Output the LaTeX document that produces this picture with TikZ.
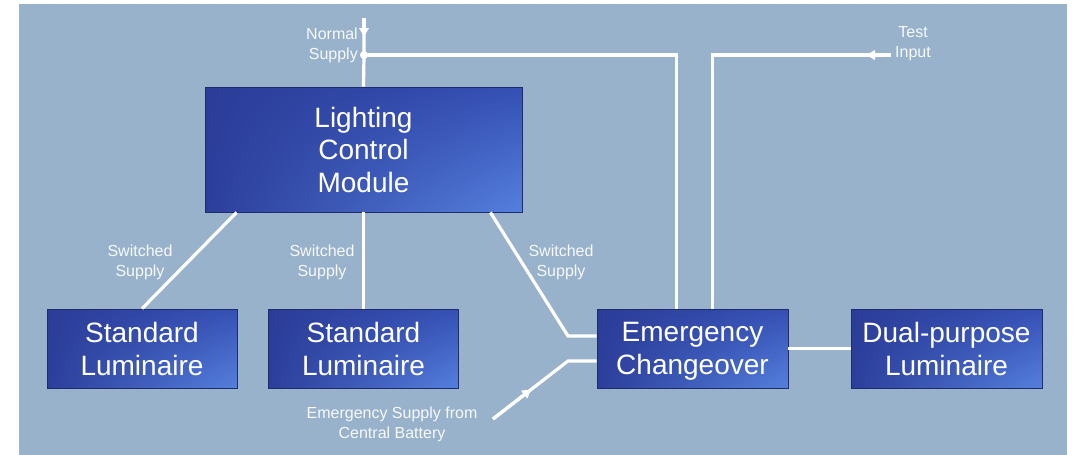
\documentclass[tikz,border=0pt]{standalone}
\usepackage{fontspec}
\setmainfont{Liberation Sans}
\usetikzlibrary{arrows.meta}
\usetikzlibrary{shadings}

\definecolor{panelblue}{HTML}{98B2CB}
\definecolor{boxdark}{HTML}{2B3C98}
\definecolor{boxmid}{HTML}{3550B4}
\definecolor{boxlight}{HTML}{5580DE}
\definecolor{boxedge}{HTML}{1E2C6A}

\tikzset{
  unitbox/.style={draw=boxedge, line width=.8pt, inner sep=0pt, align=center, text=white,
    upper left=boxdark, upper right=boxmid, lower left=boxdark!90!boxmid, lower right=boxlight,
    font=\fontsize{28}{33}\selectfont},
  wire/.style={draw=white, line width=3.2pt},
  feed/.style={wire, -{Latex[length=10pt,width=11pt]}},
  tag/.style={text=white!92!panelblue, align=center, inner sep=0pt, font=\fontsize{16}{20}\selectfont}
}
\newcommand{\nodesc}[1]{\raisebox{0pt}[\height][0pt]{#1}}

\begin{document}
\begin{tikzpicture}[x=1pt,y=-1pt]
\useasboundingbox (0,0) rectangle (1076,455);
\fill[white] (0,0) rectangle (1076,455);
\fill[panelblue] (19,4) rectangle (1067,455);

% blocks
\node[unitbox, minimum width=317pt, minimum height=125pt] (lcm) at (363.5,149.5) {\raisebox{-1pt}{Lighting}\\Control\\Module};
\node[unitbox, minimum width=190pt, minimum height=79pt] (stdA) at (142,348.5) {Standard\\Luminaire};
\node[unitbox, minimum width=190pt, minimum height=79pt] (stdB) at (363.5,348.5) {Standard\\Luminaire};
\node[unitbox, minimum width=191pt, minimum height=79pt] (ecu) at (692.5,348.5) {Emergency\\\nodesc{Changeover}};
\node[unitbox, minimum width=191pt, minimum height=79pt] (dual) at (946.5,348.5) {Dual-purpose\\Luminaire};

% free ends
\coordinate (normin) at (364,18);
\coordinate (normtip) at (364,38);
\coordinate (normtap) at (364,55);
\coordinate (testin) at (891,55);
\coordinate (testtip) at (865,55);
\coordinate (battin) at (493,419);
\coordinate (batttip) at (532,388.5);
\coordinate (battbend) at (568,361);
\coordinate (swbend) at (568,336);

% wiring
\draw[wire] (normin) -- (normtap) -- (lcm.north);
\draw[feed] (normin) -- (normtip);
\draw[wire] (normtap) -| ([xshift=-16pt]ecu.north);
\fill[white] (normtap) circle (4pt);
\draw[wire] (testin) -| ([xshift=20pt]ecu.north);
\draw[feed] (testin) -- (testtip);
\draw[wire] ([xshift=32pt]lcm.south west) -- (stdA.north);
\draw[wire] (lcm.south) -- (stdB.north);
\draw[wire] ([xshift=-32pt]lcm.south east) -- (swbend) -- ([yshift=12.5pt]ecu.west);
\draw[wire] (battin) -- (battbend) -- ([yshift=-12.5pt]ecu.west);
\draw[feed] (battin) -- (batttip);
\draw[wire] (ecu.east) -- (dual.west);

% labels
\node[tag, anchor=east, align=right] (normlbl) at (358,45) {Normal\\Supply};
\node[tag] (testlbl) at (913,44) {Test\\Input};
\node[tag] (swA) at (140,262) {Switched\\Supply};
\node[tag] (swB) at (322,262) {Switched\\Supply};
\node[tag] (swC) at (561,262) {Switched\\Supply};
\node[tag] (battlbl) at (392,424) {Emergency Supply from\\Central Battery};
\end{tikzpicture}
\end{document}
